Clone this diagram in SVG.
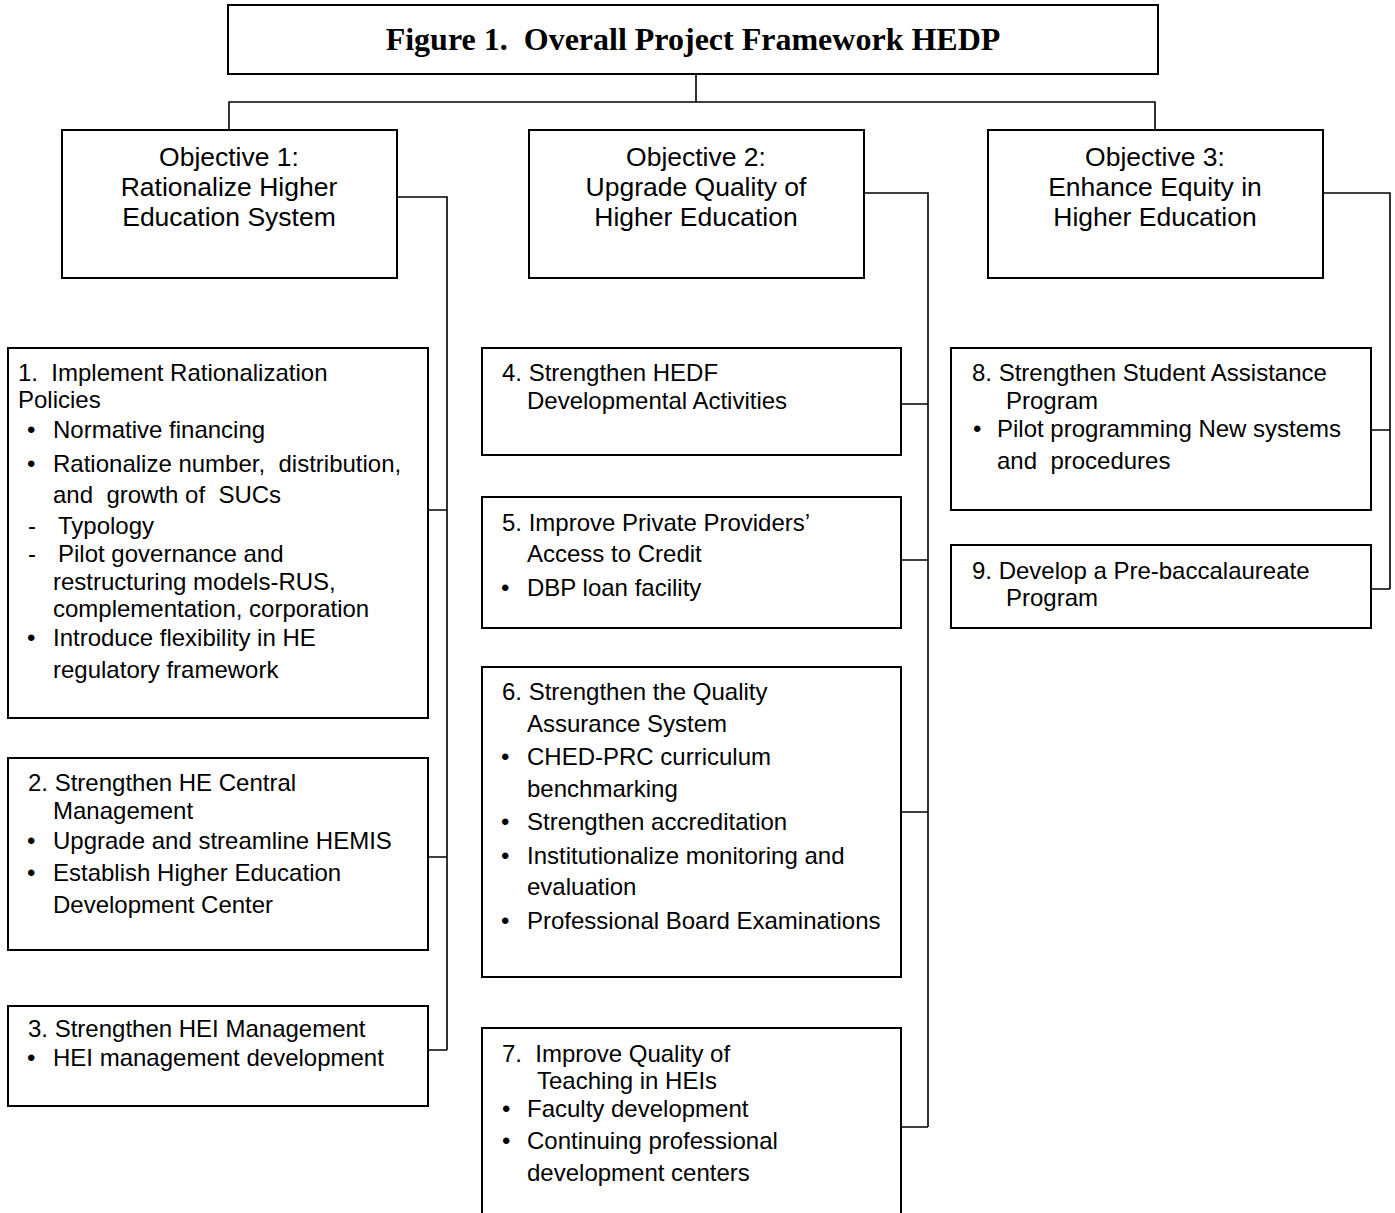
<svg xmlns="http://www.w3.org/2000/svg" width="1395" height="1213" viewBox="0 0 1395 1213">
<style>
.box{fill:#fff;stroke:#000;stroke-width:2}
.con{fill:none;stroke:#000;stroke-width:1.6}
text{font-family:"Liberation Sans",Arial,sans-serif;font-size:24px;fill:#000;white-space:pre}
.obj{font-size:26.5px;text-anchor:middle}
.title{font-family:"Liberation Serif","Times New Roman",serif;font-weight:bold;font-size:32px;text-anchor:middle}
</style>
<rect width="1395" height="1213" fill="#fff"/>
<g id="connectors">
<path class="con" d="M696 74V102M229 130V102H1155V130"/>
<path class="con" d="M397 197H447V1050M428 510H447M428 857H447M428 1050H447"/>
<path class="con" d="M864 193H928V1127M901 404H928M901 560H928M901 812H928M901 1127H928"/>
<path class="con" d="M1323 193H1390V589M1371 430H1390M1371 589H1390"/>
</g>
<g id="title">
<rect class="box" x="228" y="5" width="930" height="69"/>
<text class="title" x="693" y="50">Figure 1.  Overall Project Framework HEDP</text>
</g>
<g id="obj1">
<rect class="box" x="62" y="130" width="335" height="148"/>
<text class="obj" x="229" y="166">Objective 1:</text>
<text class="obj" x="229" y="196">Rationalize Higher</text>
<text class="obj" x="229" y="226">Education System</text>
</g>
<g id="obj2">
<rect class="box" x="529" y="130" width="335" height="148"/>
<text class="obj" x="696" y="166">Objective 2:</text>
<text class="obj" x="696" y="196">Upgrade Quality of</text>
<text class="obj" x="696" y="226">Higher Education</text>
</g>
<g id="obj3">
<rect class="box" x="988" y="130" width="335" height="148"/>
<text class="obj" x="1155" y="166">Objective 3:</text>
<text class="obj" x="1155" y="196">Enhance Equity in</text>
<text class="obj" x="1155" y="226">Higher Education</text>
</g>
<g id="box1">
<rect class="box" x="8" y="348" width="420" height="370"/>
<text x="18" y="381">1.  Implement Rationalization</text>
<text x="18" y="408">Policies</text>
<text x="27" y="438">•</text><text x="53" y="438">Normative financing</text>
<text x="27" y="472">•</text><text x="53" y="472">Rationalize number,  distribution,</text>
<text x="53" y="503">and  growth of  SUCs</text>
<text x="28" y="534">-</text><text x="58" y="534">Typology</text>
<text x="28" y="562">-</text><text x="58" y="562">Pilot governance and</text>
<text x="53" y="590">restructuring models-RUS,</text>
<text x="53" y="617">complementation, corporation</text>
<text x="27" y="646">•</text><text x="53" y="646">Introduce flexibility in HE</text>
<text x="53" y="678">regulatory framework</text>
</g>
<g id="box2">
<rect class="box" x="8" y="758" width="420" height="192"/>
<text x="28" y="791">2. Strengthen HE Central</text>
<text x="53" y="819">Management</text>
<text x="27" y="849">•</text><text x="53" y="849">Upgrade and streamline HEMIS</text>
<text x="27" y="881">•</text><text x="53" y="881">Establish Higher Education</text>
<text x="53" y="913">Development Center</text>
</g>
<g id="box3">
<rect class="box" x="8" y="1006" width="420" height="100"/>
<text x="28" y="1037">3. Strengthen HEI Management</text>
<text x="27" y="1066">•</text><text x="53" y="1066">HEI management development</text>
</g>
<g id="box4">
<rect class="box" x="482" y="348" width="419" height="107"/>
<text x="502" y="381">4. Strengthen HEDF</text>
<text x="527" y="409">Developmental Activities</text>
</g>
<g id="box5">
<rect class="box" x="482" y="497" width="419" height="131"/>
<text x="502" y="531">5. Improve Private Providers’</text>
<text x="527" y="562">Access to Credit</text>
<text x="501" y="596">•</text><text x="527" y="596">DBP loan facility</text>
</g>
<g id="box6">
<rect class="box" x="482" y="667" width="419" height="310"/>
<text x="502" y="700">6. Strengthen the Quality</text>
<text x="527" y="732">Assurance System</text>
<text x="501" y="765">•</text><text x="527" y="765">CHED-PRC curriculum</text>
<text x="527" y="797">benchmarking</text>
<text x="501" y="830">•</text><text x="527" y="830">Strengthen accreditation</text>
<text x="501" y="864">•</text><text x="527" y="864">Institutionalize monitoring and</text>
<text x="527" y="895">evaluation</text>
<text x="501" y="929">•</text><text x="527" y="929">Professional Board Examinations</text>
</g>
<g id="box7">
<rect class="box" x="482" y="1028" width="419" height="200"/>
<text x="502" y="1062">7.  Improve Quality of</text>
<text x="537" y="1089">Teaching in HEIs</text>
<text x="502" y="1117">•</text><text x="527" y="1117">Faculty development</text>
<text x="502" y="1149">•</text><text x="527" y="1149">Continuing professional</text>
<text x="527" y="1181">development centers</text>
</g>
<g id="box8">
<rect class="box" x="951" y="348" width="420" height="162"/>
<text x="972" y="381">8. Strengthen Student Assistance</text>
<text x="1006" y="409">Program</text>
<text x="973" y="437">•</text><text x="997" y="437">Pilot programming New systems</text>
<text x="997" y="469">and  procedures</text>
</g>
<g id="box9">
<rect class="box" x="951" y="545" width="420" height="83"/>
<text x="972" y="579">9. Develop a Pre-baccalaureate</text>
<text x="1006" y="606">Program</text>
</g>
</svg>
